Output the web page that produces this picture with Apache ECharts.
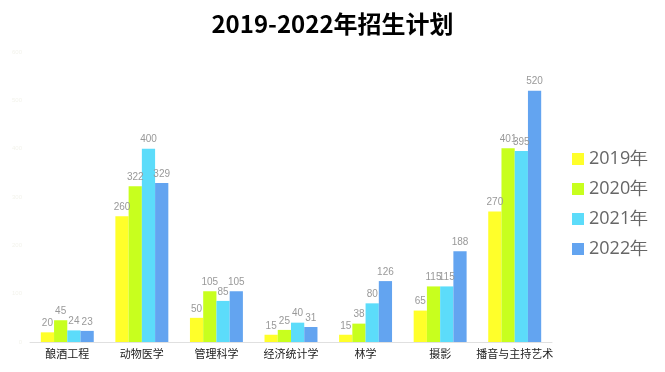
<!DOCTYPE html>
<html><head><meta charset="utf-8">
<script src="https://cdn.jsdelivr.net/npm/echarts@6/dist/echarts.min.js"></script>
<style>html,body{margin:0;padding:0;background:#fff}#c{width:665px;height:372px}</style>
</head><body><div id="c"></div>
<script>
const categories = ['酿酒工程','动物医学','管理科学','经济统计学','林学','摄影','播音与主持艺术'];
const seriesNames = ['2019年','2020年','2021年','2022年'];
const s2019 = [20,260,50,15,15,65,270];
const s2020 = [45,322,105,25,38,115,401];
const s2021 = [24,400,85,40,80,115,395];
const s2022 = [23,329,105,31,126,188,520];
const colors = ['#ffff2a','#c8ff1e','#5cdcfa','#63a4f0'];
const yTicks = [0,100,200,300,400,500,600];

const chart = echarts.init(document.getElementById('c'));
const dataSets = [s2019,s2020,s2021,s2022];
chart.setOption({
  animation:false,
  title:{text:'2019-2022年招生计划',left:'center',top:7,textStyle:{fontSize:24,fontWeight:'bold',color:'#000',fontFamily:'Noto Sans CJK SC'}},
  legend:{orient:'vertical',left:567,top:145,itemWidth:12,itemHeight:12,itemGap:12,icon:'rect',
    textStyle:{fontSize:18,color:'#666',fontFamily:'Open Sans'}},
  grid:{left:30,right:113,top:52,bottom:30,containLabel:false},
  xAxis:{type:'category',data:categories,axisTick:{show:false},
    axisLine:{lineStyle:{color:'#e0e0e0'}},
    axisLabel:{color:'#222',fontSize:11,interval:0,margin:6,fontFamily:'Noto Sans CJK SC'}},
  yAxis:{type:'value',min:yTicks[0],max:yTicks[yTicks.length-1],interval:100,
    axisLine:{show:false},axisTick:{show:false},splitLine:{show:false},
    axisLabel:{color:'#f3f3ec',fontSize:6,margin:8}},
  series: seriesNames.map((n,i)=>({
    name:n,type:'bar',data:dataSets[i],barGap:'0%',barCategoryGap:'29%',
    itemStyle:{color:colors[i]},
    label:{show:true,position:'top',color:'#999',fontSize:10,distance:4}
  }))
});
</script></body></html>
